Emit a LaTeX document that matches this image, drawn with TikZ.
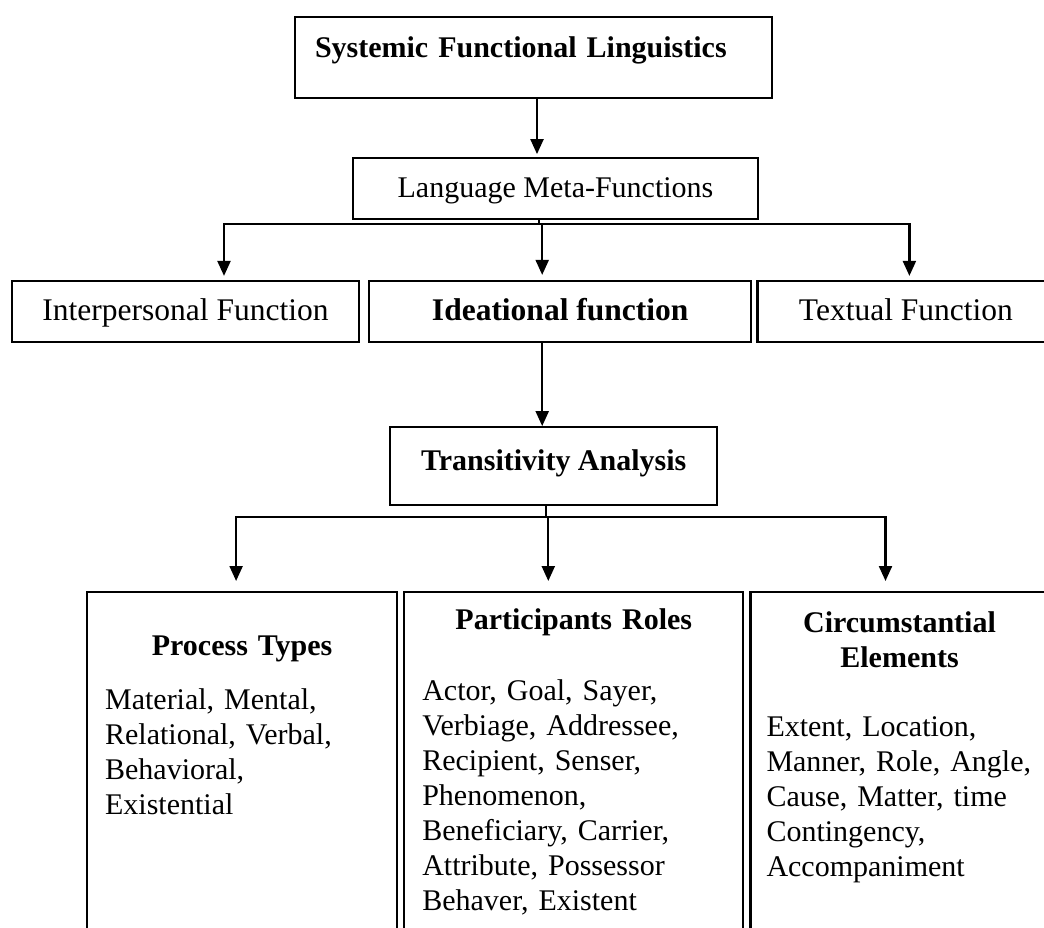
\documentclass[tikz,border=0pt]{standalone}
\usepackage{fontspec}
\setmainfont{Liberation Serif}
\usetikzlibrary{positioning,arrows.meta}

\tikzset{
  box/.style={draw, line width=2.2pt, inner sep=0pt, text height=22pt, text depth=4pt,
    font=\fontsize{30}{35}\selectfont},
  bigbox/.style={box, minimum height=61pt, font=\fontsize{31.5}{36}\selectfont},
  listbox/.style={draw, line width=2.2pt, inner xsep=18pt, inner ysep=10pt, align=left,
    anchor=north west, font=\fontsize{30}{35}\selectfont},
  conn/.style={line width=2.2pt, line cap=rect},
  arr/.style={conn, -{Triangle[length=15pt,width=13pt]}},
}
\newcommand{\listhead}[1]{\makebox[\linewidth]{\bfseries #1}}

\begin{document}
\begin{tikzpicture}
  \useasboundingbox (0,0) rectangle (1044pt,-928pt);

  \node[box, font=\fontsize{30}{35}\selectfont\bfseries, text width=437pt, align=left,
    inner xsep=20pt, text height=41pt, text depth=40pt] (sfl) at (533.5pt,-57.5pt)
    {Systemic Functional Linguistics};
  \node[box, minimum width=405pt, minimum height=61pt, below=58pt of sfl, xshift=22pt] (lmf)
    {Language Meta-Functions};

  \node[bigbox, minimum width=347pt] (inter) at (185.5pt,-311.5pt) {Interpersonal Function};
  \node[bigbox, minimum width=382pt, right=8pt of inter,
    font=\fontsize{31.5}{36}\selectfont\bfseries] (idea) {Ideational function};
  \node[bigbox, minimum width=297pt, right=4pt of idea] (textf) {Textual Function};

  \node[box, font=\fontsize{30}{35}\selectfont\bfseries, minimum width=327pt,
    minimum height=78pt, text depth=14pt, below=83pt of idea, xshift=-6.5pt] (trans)
    {Transitivity Analysis};

  % the three lists at the bottom
  \node[listbox, text width=274pt, text height=53pt, text depth=281pt] (proc) at (86pt,-591pt)
    {\listhead{Process Types}\\[19pt]
     Material, Mental,\\ Relational, Verbal,\\ Behavioral,\\ Existential};
  \node[listbox, text width=303pt, text height=27pt, text depth=307pt,
    right=5pt of proc.north east, anchor=north west] (part)
    {\listhead{Participants Roles}\\[36pt]
     Actor, Goal, Sayer,\\ Verbiage, Addressee,\\ Recipient, Senser,\\ Phenomenon,\\
     Beneficiary, Carrier,\\ Attribute, Possessor\\ Behaver, Existent};
  \node[listbox, text width=266pt, inner xsep=16pt, text height=30pt, text depth=304pt,
    right=5pt of part.north east, anchor=north west] (circ)
    {\listhead{Circumstantial}\\ \listhead{Elements}\\[34pt]
     Extent, Location,\\ Manner, Role, Angle,\\ Cause, Matter, time\\ Contingency,\\
     Accompaniment};

  % connectors
  \coordinate (lmfin) at ([xshift=3.5pt]sfl.south);
  \draw[arr, shorten >=3pt] (lmfin) -- (lmfin |- lmf.north);

  \coordinate[below=4pt of lmf.south, xshift=-16.5pt] (fork1);
  \coordinate (interin) at ([xshift=38.5pt]inter.north);
  \coordinate (ideain) at ([xshift=-18pt]idea.north);
  \coordinate (textin) at ([xshift=3.5pt]textf.north);
  \draw[conn] (fork1 |- lmf.south) -- (fork1);
  \draw[conn] (fork1 -| interin) -- (fork1 -| textin);
  \draw[arr, shorten >=4pt] (fork1 -| interin) -- (interin);
  \draw[arr, shorten >=5pt] (fork1 -| ideain) -- (ideain);
  \draw[arr, shorten >=4pt] (fork1 -| textin) -- (textin);

  \coordinate (transin) at ([xshift=-18pt]idea.south);
  \draw[arr] (transin) -- (transin |- trans.north);

  \coordinate[below=11pt of trans.south, xshift=-7.5pt] (fork2);
  \coordinate (procin) at ([xshift=-6pt]proc.north);
  \coordinate (partin) at ([xshift=-25.5pt]part.north);
  \coordinate (circin) at ([xshift=-14pt]circ.north);
  \draw[conn] (fork2 |- trans.south) -- (fork2);
  \draw[conn] (fork2 -| procin) -- (fork2 -| circin);
  \draw[arr, shorten >=10pt] (fork2 -| procin) -- (procin);
  \draw[arr, shorten >=10pt] (fork2 -| partin) -- (partin);
  \draw[arr, shorten >=10pt] (fork2 -| circin) -- (circin);
\end{tikzpicture}
\end{document}
